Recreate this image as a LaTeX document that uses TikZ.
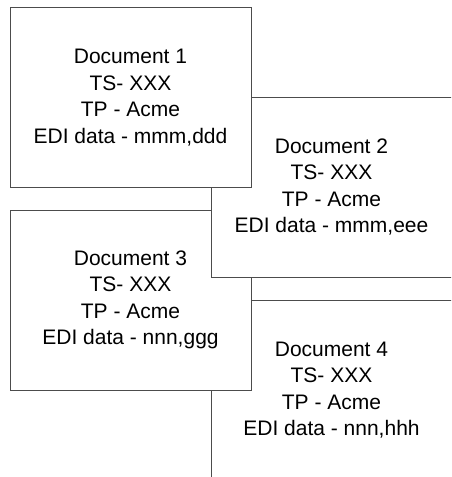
\documentclass[tikz,border=0pt]{standalone}
\usepackage{fontspec}
\setmainfont{Liberation Sans}
\begin{document}
\begin{tikzpicture}[x=1pt, y=-1pt]
  \useasboundingbox (0,0) rectangle (451,477);
  \clip (0,0) rectangle (451,477);
  {\tikzstyle{every node}=[rectangle, draw=black!70, fill=white, line width=1pt,
     minimum width=241pt, minimum height=180pt, align=center,
     font=\fontsize{21}{26.5}\selectfont]
    % back to front: 4, 3, 2, 1
    \node (doc4) at (331.5,390) {Document 4\\TS- XXX\\TP - Acme\\EDI data - nnn,hhh};
    \node (doc3) at (130.5,300) {Document 3\\TS- XXX\\TP - Acme\\EDI data - nnn,ggg};
    \node (doc2) at (331.5,187) {Document 2\\TS- XXX\\TP - Acme\\EDI data - mmm,eee};
    \node (doc1) at (130.5,97.5) {Document 1\\TS- XXX\\TP - Acme\\EDI data - mmm,ddd};
  }
\end{tikzpicture}
\end{document}
